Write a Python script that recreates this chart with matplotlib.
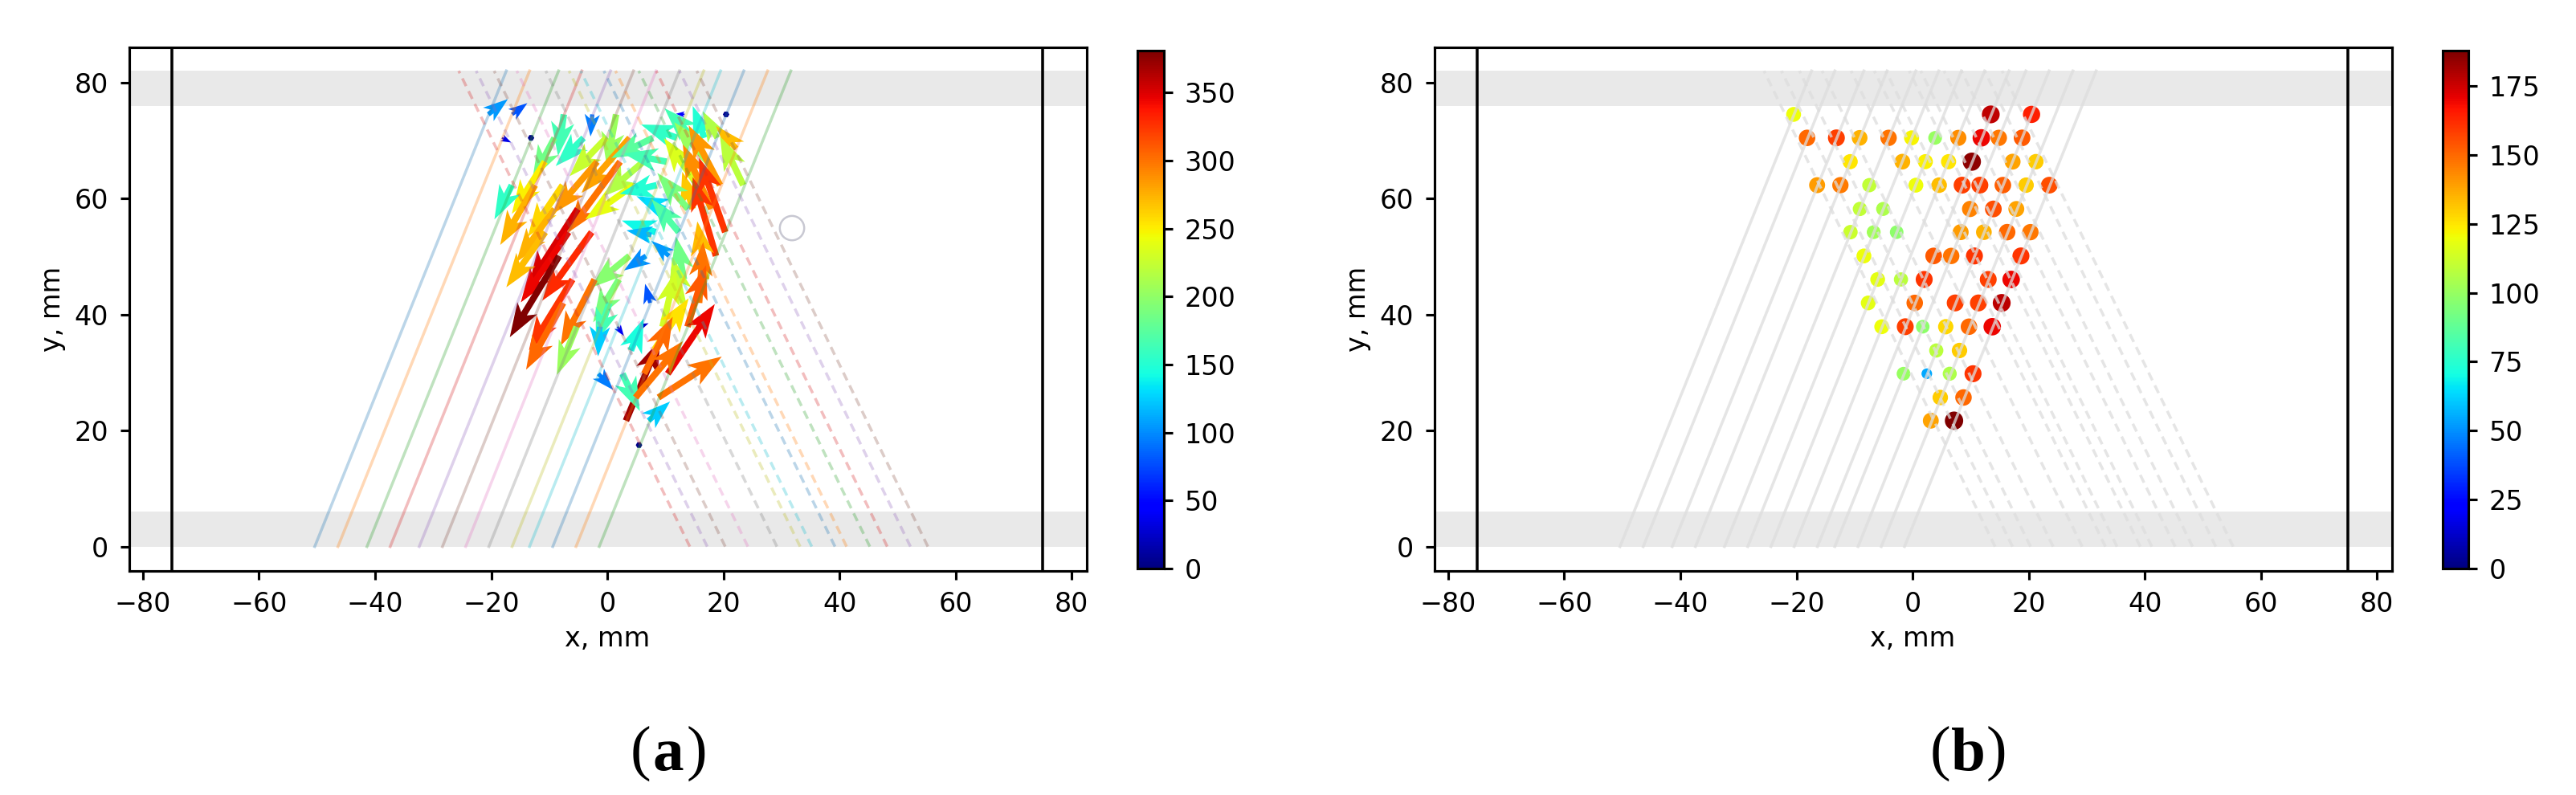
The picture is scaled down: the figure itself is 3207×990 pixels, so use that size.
import matplotlib
matplotlib.use("Agg")
import matplotlib.pyplot as plt
from matplotlib.colors import Normalize
from matplotlib.patches import Circle
from matplotlib.cm import ScalarMappable

W, H = 3207, 990

# rays, x at y=0 and x at y=82
solid_x0 = [-50.4, -46.4, -41.4, -37.4, -32.4, -28.4, -24.4, -20.4, -16.4, -13.4, -9.4, -5.4, -1.4]
solid_x1 = [-17.4, -13.4, -8.4, -4.4, 0.55, 4.5, 8.4, 12.4, 16.6, 19.5, 23.5, 27.6, 31.6]
dashed_x0 = [14.2, 17.2, 20.3, 24.2, 29.2, 33.2, 35.2, 39.2, 41.2, 45.2, 48.2, 52.2, 55.2]
dashed_x1 = [-25.6, -22.6, -19.5, -15.6, -10.6, -6.6, -4.6, -0.6, 1.4, 5.4, 8.4, 12.4, 15.4]

# panel a, arrows
qx = [-20.5, -16.4, -7.5, -2.6, 1.5, 13.3, 20.45,
      -18.15, -13.15, -9.1, -4.1, -0.2, 3.85, 7.85, 12, 14.85, 16.7, 18.9, 22.2,
      -10.75, -1.75, 2.2, 6.2, 10.2, 17.2,
      -16.45, -12.45, -7.7, 4.55, 8.5, 15.55, 19.4, 23.4,
      -9.1, -5.1, 9.9, 14.7, 13.9, 17.9,
      -10.7, -6.7, -2.7, 8.3, 7.6, 12.3, 20.3,
      -8.3, 3.8, 6.65, 10.6, 18.7,
      -6, -2.2, 2, 13.2, 17,
      -7.6, 0.36, 7.35, 13, 15.8,
      -5.3, -1.3, 1.75, 5.7, 9.5, 13.8,
      3.2,
      4.05, 8,
      -1.55, 2.6, 6.35, 10.4,
      4.85, 8.8,
      7.1, 5.45]
qy = [74.5, 74.5, 74.5, 74.5, 74.5, 74.5, 74.5,
      70.45, 70.45, 70.45, 70.45, 70.45, 70.45, 70.45, 70.45, 70.45, 70.45, 70.45, 68.6,
      66.35, 66.35, 66.35, 66.35, 66.35, 66.35,
      62.3, 62.3, 62.3, 62.3, 62.3, 62.3, 62.3, 62.3,
      58.2, 58.2, 58.2, 58.2, 58.2, 58.2,
      54.2, 54.2, 54.2, 54.2, 53.7, 54.2, 54.2,
      50.1, 50.1, 50.1, 50.1, 50.1,
      46.05, 46.05, 46.05, 46.05, 46.05,
      42, 42, 42, 42, 42,
      37.9, 37.9, 37.9, 37.9, 37.9, 37.9,
      21.7,
      33.8, 33.8,
      29.8, 29.8, 29.8, 29.8,
      25.7, 25.7,
      21.7, 17.5]
qu = [3.36, 2.62, -1, -0.3, -1.6, -1.5, 0,
      1.6, 0, -3.8, -4.8, -6.3, -8.3, -7.2, -6.2, -5, -2, -2.5, -3.5,
      -5.7, -7.7, -9.1, -7, -7.4, -5.7,
      -3, -6, -6, -8.35, -6.4, -5.8, -5.4, -4,
      -6.6, -8.4, -4.9, -1.8, -5.3, -4.9,
      -6.7, -8.2, -8.5, -5.8, -4.3, -4.7, -4.5,
      -8.5, -6.7, -3.8, -3, -4,
      -7.5, -5.85, -4.45, -1.4, -1.5,
      -6.4, -2.35, -0.85, -1.8, 0.7,
      -3.4, -0.3, 1.1, 1.4, 2.3, 3.2,
      5.9,
      2.2, 6,
      2.57, 3, 4.9, 8.1,
      8.15, 10.9,
      3.7, 0]
qv = [2.63, 1.94, -7.15, -3.8, -8.9, 0.1, 0,
      -0.8, 0, -7.15, -4.85, -6.6, -9.5, -3.5, 2.3, 5.1, 5.5, 4.6, 3.9,
      -9, -9, -12.3, -6, 1.4, 6.8,
      -5.9, -10.3, -8.9, -5.9, -1.5, 8.1, 10.3, 8.4,
      -9.2, -13.1, 2.2, 6.4, 6.2, 11.1,
      -9.5, -12.1, -11.8, 2, 0.8, 5.7, 12.8,
      -14, -5.5, -2.5, 2.6, 13.6,
      -12.2, -11.4, -7.4, 7.4, 10,
      -11.5, -6.8, 3.3, 7.9, 10.5,
      -8.3, -5.1, -1.6, 0.6, 9.7, 10.6,
      14,
      5.5, 9,
      -2.8, -6.45, 9.8, 12,
      9.7, 7.05,
      3.3, 0]
qc = [105, 80, 165, 95, 205, 45, 5,
      35, 5, 185, 155, 225, 280, 175, 155, 165, 150, 215, 270,
      250, 285, 300, 215, 165, 205,
      155, 275, 260, 240, 150, 235, 285, 220,
      275, 350, 130, 265, 190, 290,
      270, 345, 330, 140, 115, 170, 325,
      381, 195, 100, 105, 325,
      325, 300, 190, 185, 270,
      305, 165, 80, 225, 300,
      205, 125, 40, 25, 230, 310,
      370,
      145, 255,
      95, 165, 305, 345,
      300, 300,
      125, 3]

# panel b, points
px = [-20.5, 13.46, 20.48,
      -18.18, -13.13, -9.13, -4.14, -0.18, 3.87, 7.87, 11.83, 14.84, 18.85,
      -10.76, -1.77, 2.19, 6.19, 10.2, 17.22, 21.22,
      -16.45, -12.44, -7.45, 0.56, 4.56, 8.52, 11.58, 15.54, 19.54, 23.54,
      -9.08, -5.08, 9.9, 13.9, 17.86,
      -10.71, -6.71, -2.75, 8.27, 12.27, 16.28, 20.28,
      -8.39, 3.62, 6.64, 10.64, 18.65,
      -6.02, -2.01, 1.99, 13.02, 16.97,
      -7.65, 0.36, 7.33, 11.33, 15.34,
      -5.32, -1.27, 1.74, 5.7, 9.7, 13.71,
      4.07, 8.07,
      -1.57, 2.44, 6.39, 10.4,
      4.76, 8.76,
      3.13, 7.13]
py = [74.5, 74.5, 74.5,
      70.45, 70.45, 70.45, 70.45, 70.45, 70.45, 70.45, 70.45, 70.45, 70.45,
      66.35, 66.35, 66.35, 66.35, 66.35, 66.35, 66.35,
      62.3, 62.3, 62.3, 62.3, 62.3, 62.3, 62.3, 62.3, 62.3, 62.3,
      58.2, 58.2, 58.2, 58.2, 58.2,
      54.2, 54.2, 54.2, 54.2, 54.2, 54.2, 54.2,
      50.1, 50.1, 50.1, 50.1, 50.1,
      46.05, 46.05, 46.05, 46.05, 46.05,
      42, 42, 42, 42, 42,
      37.9, 37.9, 37.9, 37.9, 37.9, 37.9,
      33.8, 33.8,
      29.8, 29.8, 29.8, 29.8,
      25.7, 25.7,
      21.7, 21.7]
pv = [120, 177, 165,
      150, 158, 135, 148, 122, 100, 143, 170, 147, 153,
      125, 135, 123, 125, 185, 138, 130,
      140, 146, 110, 120, 133, 158, 158, 152, 130, 155,
      110, 105, 145, 155, 138,
      112, 102, 98, 140, 135, 150, 147,
      120, 153, 148, 160, 160,
      118, 108, 160, 158, 170,
      118, 150, 158, 158, 178,
      120, 158, 98, 128, 150, 170,
      108, 130,
      100, 55, 105, 160,
      130, 150,
      138, 188]

plt.rcParams.update({'font.size': 8, 'axes.linewidth': 0.75,
                     'xtick.major.size': 2.6, 'ytick.major.size': 2.6,
                     'xtick.major.width': 0.75, 'ytick.major.width': 0.75})

fig = plt.figure(figsize=(W / 300, H / 300), dpi=300)


def box(l, r, t, b):
    return [l / W, 1 - b / H, (r - l) / W, (b - t) / H]


def base_axes(left):
    ax = fig.add_axes(box(left, left + 1192, 59, 711))
    ax.set_xlim(-82.4, 82.5)
    ax.set_ylim(-4.2, 86.05)
    ax.axhspan(76, 82, color='#e9e9e9', lw=0, zorder=0)
    ax.axhspan(0, 6, color='#e9e9e9', lw=0, zorder=0)
    ax.axvline(-75, color='k', lw=0.85, zorder=6)
    ax.axvline(75, color='k', lw=0.85, zorder=6)
    ax.set_xlabel('x, mm', labelpad=2.2)
    ax.set_ylabel('y, mm', labelpad=2.5)
    return ax


def caption(cx, letter):
    y = 1 - 938 / H
    fig.text((cx - 35) / W, y, '(', family='Liberation Serif', fontsize=18.5, ha='center', va='center')
    fig.text(cx / W, y - 2 / H, letter, family='Liberation Serif', weight='bold', fontsize=18.5, ha='center', va='center')
    fig.text((cx + 35) / W, y, ')', family='Liberation Serif', fontsize=18.5, ha='center', va='center')


# (a)
ax1 = base_axes(160.5)
norm1 = Normalize(0, 381)
ax1.quiver(qx, qy, qu, qv, qc, cmap='jet', norm=norm1, angles='xy', scale_units='xy', scale=1,
           width=0.0068, headwidth=3.6, headlength=5.2, headaxislength=4.2, zorder=2)
for i in range(len(solid_x0)):
    ax1.plot([solid_x0[i], solid_x1[i]], [0, 82], color='C%d' % (i % 10), lw=0.85, alpha=0.3, zorder=3)
for i in range(len(dashed_x0)):
    ax1.plot([dashed_x0[i], dashed_x1[i]], [0, 82], color='C%d' % ((i + 13) % 10), lw=0.85, alpha=0.3,
             ls=(0, (3, 2)), zorder=3)
ax1.add_patch(Circle((31.8, 54.9), 2.1, fc='none', ec='#c8c8d2', lw=0.6, zorder=3))
cax1 = fig.add_axes(box(1416, 1449, 63, 708))
fig.colorbar(ScalarMappable(norm1, 'jet'), cax=cax1, ticks=range(0, 351, 50))
caption(832, 'a')

# (b)
ax2 = base_axes(1785.5)
norm2 = Normalize(0, 187.8)
sizes = [0.15 * v + 1.8 for v in pv]
ax2.scatter(px, py, s=sizes, c=pv, cmap='jet', norm=norm2, lw=0, zorder=2)
for i in range(len(solid_x0)):
    ax2.plot([solid_x0[i], solid_x1[i]], [0, 82], color='#dddddd', lw=0.85, alpha=0.75, zorder=3)
for i in range(len(dashed_x0)):
    ax2.plot([dashed_x0[i], dashed_x1[i]], [0, 82], color='#dddddd', lw=0.85, alpha=0.75,
             ls=(0, (3, 2)), zorder=3)
cax2 = fig.add_axes(box(3041, 3073, 63, 708))
fig.colorbar(ScalarMappable(norm2, 'jet'), cax=cax2, ticks=range(0, 176, 25))
caption(2450, 'b')

fig.savefig('out.png', dpi=300)
